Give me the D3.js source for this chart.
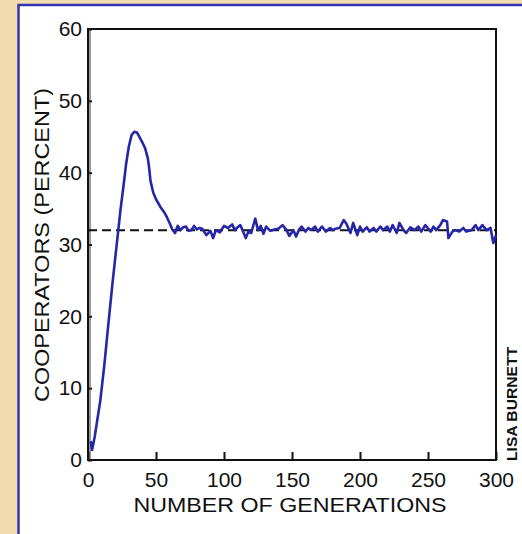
<!DOCTYPE html>
<html><head><meta charset="utf-8">
<script src="https://cdn.jsdelivr.net/npm/d3@7"></script>
<style>body{margin:0;padding:0;overflow:hidden;background:#f3dbb0}svg{display:block}text{font-family:"Liberation Sans",Arial,Helvetica,sans-serif;fill:#111}</style>
</head><body><svg id="c" width="522" height="534"></svg>
<script>
const generations = [2,3,5,7,9,12,15,18,21,24,26,28,30,32,34,36,38,40,42,44,45,46,48,50,53,56,58,60,62,64,66,68,70,72,74,76,78,80,82,84,87,90,92,94,97,100,103,106,108,110,112,114,116,118,120,123,125,127,129,131,134,137,140,143,146,148,151,153,155,157,160,162,164,167,169,172,175,178,180,182,185,188,190,193,195,198,200,202,205,207,210,212,215,217,220,222,224,227,229,232,234,237,240,243,245,248,252,254,256,259,261,264,265,268,270,273,276,278,282,285,287,290,293,296,298,300];
const cooperators = [2.6,1.4,3.3,5.8,8.2,13.2,19.0,24.6,29.8,35.0,38.0,41.2,43.6,45.2,45.7,45.6,44.9,44.2,43.4,42.0,40.6,38.8,37.2,36.3,35.3,34.5,33.8,33.0,32.1,31.6,32.6,32.0,32.4,32.5,31.9,32.0,32.6,32.1,32.3,32.2,31.3,31.9,30.9,32.0,31.7,32.6,32.3,32.8,32.0,32.4,32.7,31.8,30.9,31.8,31.6,33.6,32.0,32.6,31.5,32.5,31.9,32.1,32.2,32.7,32.0,31.2,32.0,31.1,32.0,32.5,31.8,32.3,32.0,32.5,31.8,32.5,31.8,32.3,32.0,32.2,32.3,33.4,32.9,31.6,33.0,31.3,32.5,31.8,32.4,31.8,32.3,31.8,32.5,32.0,32.5,31.8,32.7,31.6,33.0,32.0,31.6,32.4,32.0,32.5,31.8,32.7,31.8,32.5,32.0,32.7,33.4,33.2,30.9,31.8,32.0,31.8,32.3,31.8,32.0,32.7,32.0,32.7,32.0,32.3,30.2,31.3];
const equilibrium = 32;
const xTicks = [0,50,100,150,200,250,300];
const yTicks = [0,10,20,30,40,50,60];
const xTitle = "NUMBER OF GENERATIONS";
const yTitle = "COOPERATORS (PERCENT)";
const credit = "LISA BURNETT";

const svg = d3.select("#c");
// background and blue-framed panel
svg.append("rect").attr("x",0).attr("y",0).attr("width",522).attr("height",534).attr("fill","#f3dbb0");
svg.append("rect").attr("x",18.5).attr("y",5).attr("width",520).attr("height",545)
  .attr("fill","#fff").attr("stroke","#3434b0").attr("stroke-width",2.5);

const x = d3.scaleLinear().domain([0,300]).range([88,496]);
const y = d3.scaleLinear().domain([0,60]).range([460,29]);

// x axis
const gx = svg.append("g").attr("transform","translate(0,460)")
  .call(d3.axisBottom(x).tickValues(xTicks).tickSizeInner(-8).tickSizeOuter(0).tickPadding(12));
gx.select(".domain").remove();
gx.selectAll("line").attr("stroke","#111").attr("stroke-width",2);
gx.selectAll("text").style("font-size","21px").attr("fill","#111");

// y axis
const gy = svg.append("g").attr("transform","translate(88,0)")
  .call(d3.axisLeft(y).tickValues(yTicks).tickSizeInner(-4).tickSizeOuter(0).tickPadding(6));
gy.select(".domain").remove();
gy.selectAll("line").attr("stroke","#111").attr("stroke-width",2);
gy.selectAll("text").style("font-size","21px").attr("fill","#111");

// frame
svg.append("rect").attr("x",x(0)).attr("y",y(60)).attr("width",x(300)-x(0)).attr("height",y(0)-y(60))
  .attr("fill","none").attr("stroke","#111").attr("stroke-width",2);
svg.append("line").attr("x1",x(0)+2).attr("x2",x(0)+2).attr("y1",y(60)).attr("y2",y(0))
  .attr("stroke","#333").attr("stroke-width",1);

// dashed equilibrium line
svg.append("line").attr("x1",x(0)).attr("x2",x(300)).attr("y1",y(equilibrium)).attr("y2",y(equilibrium))
  .attr("stroke","#111").attr("stroke-width",2).attr("stroke-dasharray","9,5");

// series line
const data = generations.map((g,i)=>({g, v: cooperators[i]}));
svg.append("path").datum(data)
  .attr("fill","none").attr("stroke","#2626a8").attr("stroke-width",2.6).attr("stroke-linejoin","round")
  .attr("d", d3.line().x(d=>x(d.g)).y(d=>y(d.v)));

// titles
svg.append("text").attr("x",290).attr("y",512).attr("text-anchor","middle")
  .attr("textLength",313).attr("lengthAdjust","spacingAndGlyphs")
  .style("font-size","21px").text(xTitle);
svg.append("text").attr("transform","translate(49,245) rotate(-90)").attr("text-anchor","middle")
  .attr("textLength",314).attr("lengthAdjust","spacingAndGlyphs")
  .style("font-size","21px").text(yTitle);
svg.append("text").attr("transform","translate(517,461) rotate(-90)").attr("text-anchor","start")
  .attr("textLength",114).attr("lengthAdjust","spacingAndGlyphs")
  .style("font-size","15px").style("font-weight","bold").text(credit);
</script>
</body></html>
